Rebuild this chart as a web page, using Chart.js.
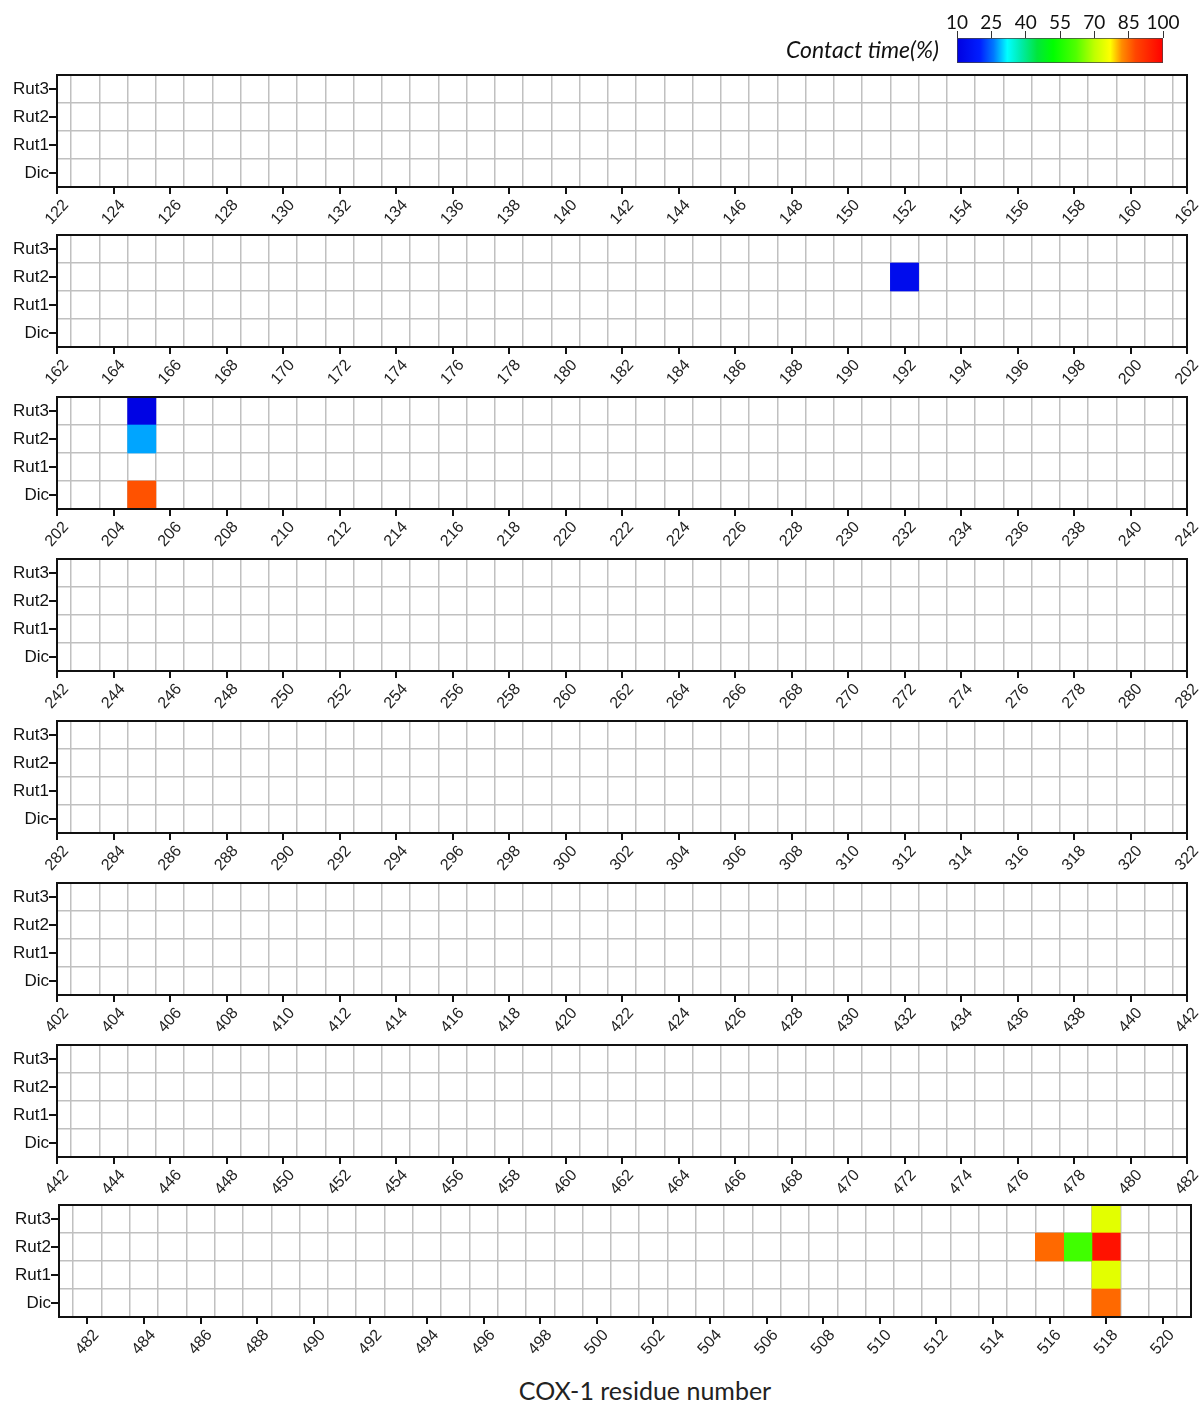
<!DOCTYPE html>
<html>
<head>
<meta charset="utf-8">
<script src="https://cdn.jsdelivr.net/npm/chart.js@4.4.1/dist/chart.umd.min.js"></script>
<style>
  body { margin: 0; background: #fff; }
  #page { position: relative; width: 1202px; height: 1404px; overflow: hidden; }
  canvas { position: absolute; }
  #xtitle {
    position: absolute; left: 445px; width: 400px; top: 1375px;
    text-align: center; font: 25px Lato, 'Open Sans', sans-serif; color: #222;
  }
</style>
</head>
<body>
<div id="page"><div id="xtitle">COX-1 residue number</div></div>
<script>
// rows of every panel, top to bottom
const rowLabels = ['Rut3', 'Rut2', 'Rut1', 'Dic'];

// residue range of each panel
const panelStarts = [122, 162, 202, 242, 282, 402, 442, 481];
const panelEnds = [162, 202, 242, 282, 322, 442, 482, 521];

// residues with a contact, and contact time (%) per ligand (null = none)
const contactResidues = [192, 205, 516, 517, 518];
const rut3Contact = [null, 11, null, null, 74];
const rut2Contact = [14, 28, 85, 60, 97];
const rut1Contact = [null, null, null, null, 74];
const dicContact = [null, 87, null, null, 85];

const colorbarTicks = [10, 25, 40, 55, 70, 85, 100];

// jet-like colour map of the colour bar
const colorStops = [
  [10, [0, 0, 225]], [20, [0, 30, 255]], [26, [0, 120, 255]], [32, [0, 255, 255]],
  [38, [0, 235, 170]], [45, [0, 230, 60]], [52, [0, 255, 0]], [62, [80, 255, 0]],
  [70, [190, 255, 0]], [77, [255, 255, 0]], [82, [255, 140, 0]], [88, [255, 70, 0]],
  [100, [255, 0, 0]]
];

// layout (pixels)
const panelTops = [75, 235, 397, 559, 721, 883, 1045, 1205];
const panelLefts = [57, 57, 57, 57, 57, 57, 57, 59];
const panelRights = [1187, 1187, 1187, 1187, 1187, 1187, 1187, 1191];
const PAD_TOP = 6;
const AREA_H = 112;
const AXIS_H = 44;
const W = 1202;

const page = document.getElementById('page');
const ARIAL = "'Liberation Sans', Arial, sans-serif";
const CALIBRI = "Lato, 'Open Sans', sans-serif";
const gridGrey = '#c0c0c0';
const ink = '#111';

function contactColor(v) {
  for (let i = 1; i < colorStops.length; i++) {
    const [v1, c1] = colorStops[i];
    const [v0, c0] = colorStops[i - 1];
    if (v <= v1) {
      const t = (v - v0) / (v1 - v0);
      const c = c0.map((x, j) => Math.round(x + (c1[j] - x) * t));
      return `rgb(${c[0]},${c[1]},${c[2]})`;
    }
  }
  return 'rgb(255,0,0)';
}

function addCanvas(left, top, w, h) {
  const c = document.createElement('canvas');
  c.width = w;
  c.height = h;
  c.style.left = left + 'px';
  c.style.top = top + 'px';
  page.appendChild(c);
  return c;
}

// no label overhang padding, so the plot area sits where the layout says
function noOverhang(s) {
  s.paddingLeft = 0;
  s.paddingRight = 0;
  s.paddingTop = 0;
  s.paddingBottom = 0;
}

function makePanel(i) {
  const lo = panelStarts[i], hi = panelEnds[i];
  const canvas = addCanvas(0, panelTops[i] - PAD_TOP, W, PAD_TOP + AREA_H + AXIS_H);

  const byRow = [rut3Contact, rut2Contact, rut1Contact, dicContact];
  const datasets = contactResidues
    .map((res, k) => ({ res, k }))
    .filter(({ res }) => res > lo && res < hi)
    .map(({ res, k }) => ({
      data: byRow.map(r => (r[k] == null ? null : [res - 0.5, res + 0.5])),
      backgroundColor: byRow.map(r => (r[k] == null ? 'transparent' : contactColor(r[k]))),
      borderWidth: 0,
      grouped: false,
      barPercentage: 1,
      categoryPercentage: 1
    }));

  const evens = [];
  for (let v = Math.ceil(lo / 2) * 2; v <= hi; v += 2) evens.push({ value: v });
  const halves = [];
  for (let v = lo + 0.5; v < hi; v += 1) halves.push({ value: v });

  const frame = { color: ink, width: 2, z: 1 };

  new Chart(canvas, {
    type: 'bar',
    data: { labels: rowLabels, datasets },
    options: {
      indexAxis: 'y',
      responsive: false,
      animation: false,
      layout: { padding: { top: PAD_TOP, left: 0, right: W - panelRights[i], bottom: 0 } },
      plugins: { legend: { display: false }, tooltip: { enabled: false } },
      scales: {
        x: {
          type: 'linear', position: 'bottom', min: lo, max: hi,
          afterBuildTicks: s => { s.ticks = evens.slice(); },
          afterFit: s => { noOverhang(s); s.height = AXIS_H; },
          grid: { drawOnChartArea: false, color: ink, lineWidth: 2, tickLength: 7 },
          border: frame,
          ticks: {
            autoSkip: false, minRotation: 48, maxRotation: 48, labelOffset: 9, padding: 2,
            color: '#222', font: { family: ARIAL, size: 16 }
          }
        },
        xg: {
          type: 'linear', position: 'top', min: lo, max: hi,
          afterBuildTicks: s => { s.ticks = halves.slice(); },
          afterFit: s => { noOverhang(s); s.height = 0; },
          grid: { color: gridGrey, lineWidth: 1.5, drawTicks: false },
          border: frame,
          ticks: { display: false }
        },
        y: {
          type: 'category', labels: rowLabels, position: 'left', offset: true,
          afterFit: s => { noOverhang(s); s.width = panelLefts[i]; },
          grid: { offset: false, drawOnChartArea: false, color: ink, lineWidth: 2, tickLength: 8 },
          border: frame,
          ticks: { padding: 0, color: '#111', font: { family: ARIAL, size: 17 } }
        },
        yg: {
          type: 'category', labels: rowLabels, position: 'right', offset: true,
          afterFit: s => { noOverhang(s); s.width = 0; },
          grid: { offset: true, color: gridGrey, lineWidth: 1.5, drawTicks: false },
          border: frame,
          ticks: { display: false }
        }
      }
    }
  });
}

panelStarts.forEach((_, i) => makePanel(i));

// colour bar
const cbCanvas = addCanvas(760, 0, 420, 76);
new Chart(cbCanvas, {
  type: 'bar',
  data: {
    labels: ['Contact time(%)'],
    datasets: [{
      data: [[colorbarTicks[0], colorbarTicks[colorbarTicks.length - 1]]],
      backgroundColor: ctx => {
        const chart = ctx.chart;
        if (!chart.chartArea) return '#888';
        const xs = chart.scales.x;
        const g = chart.ctx.createLinearGradient(xs.getPixelForValue(10), 0, xs.getPixelForValue(100), 0);
        colorStops.forEach(([v, c]) => g.addColorStop((v - 10) / 90, `rgb(${c[0]},${c[1]},${c[2]})`));
        return g;
      },
      borderColor: '#444',
      borderWidth: 1,
      borderSkipped: false,
      barPercentage: 1,
      categoryPercentage: 1
    }]
  },
  options: {
    indexAxis: 'y',
    responsive: false,
    animation: false,
    layout: { padding: { top: 0, left: 0, right: 17, bottom: 13 } },
    plugins: { legend: { display: false }, tooltip: { enabled: false } },
    scales: {
      x: {
        type: 'linear', position: 'top', min: 10, max: 100,
        afterBuildTicks: s => { s.ticks = colorbarTicks.map(v => ({ value: v })); },
        afterFit: s => { noOverhang(s); s.height = 38; },
        grid: { drawOnChartArea: false, color: '#333', lineWidth: 1, tickLength: 7 },
        border: { display: false },
        ticks: { autoSkip: false, maxRotation: 0, padding: -3, color: '#111', font: { family: CALIBRI, size: 19 } }
      },
      y: {
        afterFit: s => { noOverhang(s); s.width = 197; },
        grid: { display: false },
        border: { display: false },
        ticks: { padding: 10, color: '#111', font: { family: CALIBRI, size: 23, style: 'italic' } }
      }
    }
  }
});
</script>
</body>
</html>
